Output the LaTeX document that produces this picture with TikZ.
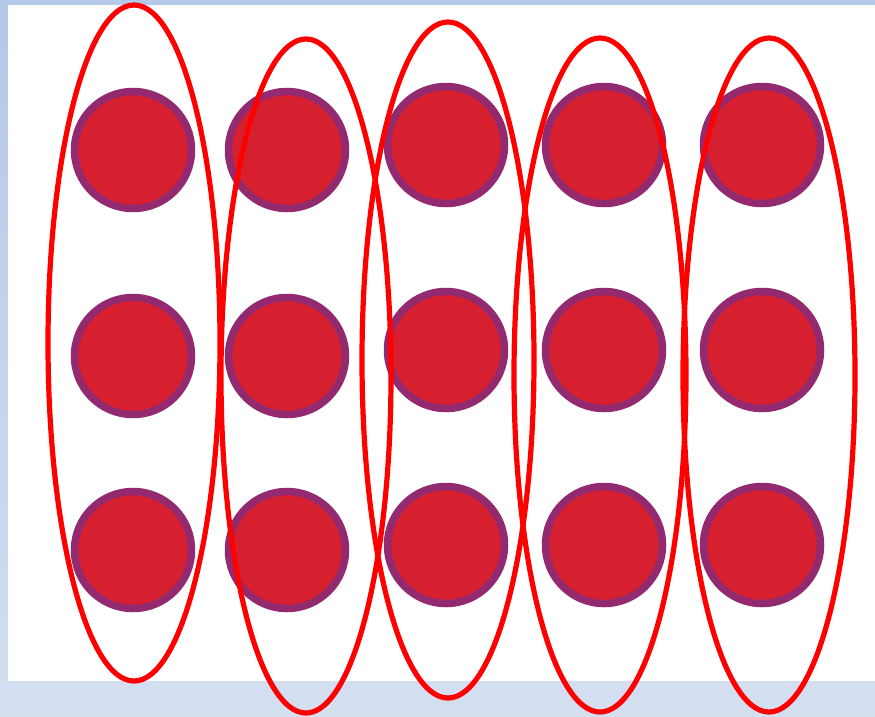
\documentclass[tikz,border=0pt]{standalone}
\definecolor{bgtop}{HTML}{B4C8E8}
\definecolor{bgbot}{HTML}{D4DFF0}
\definecolor{ring}{HTML}{93296F}
\definecolor{fillred}{HTML}{D6202F}
\definecolor{ellred}{HTML}{FF0000}
\tikzset{
  ball/.style={circle, draw=ring, line width=7.5pt, fill=fillred, minimum size=117pt, inner sep=0pt},
  loop/.style={draw=ellred, line width=5.2pt}
}
\begin{document}
\begin{tikzpicture}[x=1pt,y=-1pt]
\useasboundingbox (0,0) rectangle (875,716);
\shade[top color=bgtop, bottom color=bgbot] (0,0) rectangle (875,716);
\fill[white] (8,5) rectangle (875,681);
% balls
\foreach \c/\x/\ya/\yb/\yc in {1/133/150/356/550, 2/287/150/356/550, 3/446/145/350/545, 4/604/145/350/545, 5/762/145/350/545}{
  \node[ball] (b\c a) at (\x,\ya) {};
  \node[ball] (b\c b) at (\x,\yb) {};
  \node[ball] (b\c c) at (\x,\yc) {};
}
% ellipses
\draw[loop] (134,343) ellipse [x radius=86, y radius=338];
\draw[loop] (306,376) ellipse [x radius=85, y radius=337];
\draw[loop] (448,360) ellipse [x radius=86, y radius=338];
\draw[loop] (600,375) ellipse [x radius=86, y radius=337];
\draw[loop] (769,375) ellipse [x radius=86, y radius=337];
\end{tikzpicture}
\end{document}
